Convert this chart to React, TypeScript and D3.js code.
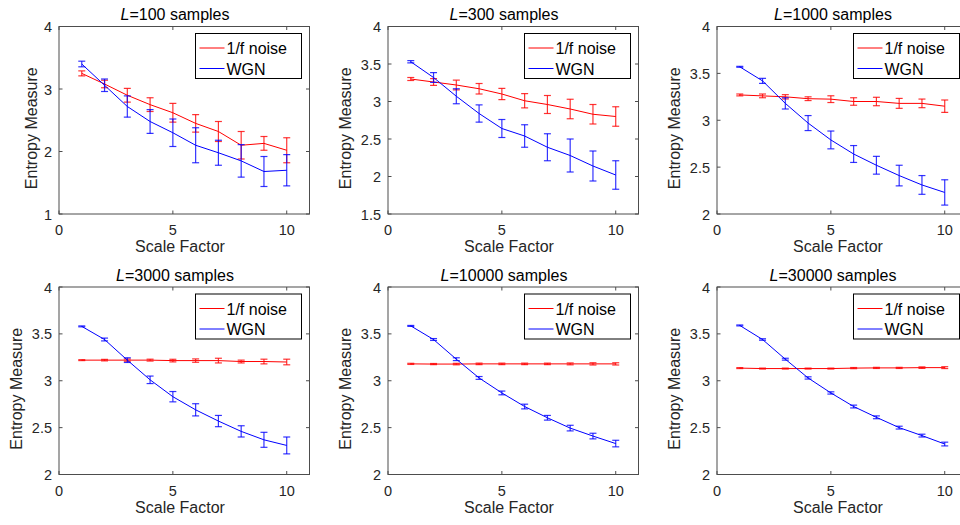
import React from "react";
import * as d3 from "d3";

const scales = [1, 2, 3, 4, 5, 6, 7, 8, 9, 10];
const titles = ["100", "300", "1000", "3000", "10000", "30000"];
const yDomains: [number, number][] = [[1, 4], [1.5, 4], [2, 4], [2, 4], [2, 4], [2, 4]];
const yTicks = [[1, 2, 3, 4], [1.5, 2, 2.5, 3, 3.5, 4], [2, 2.5, 3, 3.5, 4], [2, 2.5, 3, 3.5, 4], [2, 2.5, 3, 3.5, 4], [2, 2.5, 3, 3.5, 4]];
const xTicks = [0, 5, 10];
const seriesNames = ["1/f noise", "WGN"];

const pinkMean = [
  [3.25, 3.08, 2.9, 2.75, 2.62, 2.45, 2.32, 2.1, 2.13, 2.02],
  [3.3, 3.26, 3.22, 3.17, 3.1, 3.01, 2.96, 2.9, 2.83, 2.8],
  [3.27, 3.26, 3.25, 3.23, 3.225, 3.2, 3.2, 3.18, 3.18, 3.15],
  [3.22, 3.22, 3.22, 3.22, 3.215, 3.215, 3.215, 3.205, 3.205, 3.2],
  [3.18, 3.178, 3.178, 3.18, 3.18, 3.18, 3.18, 3.18, 3.18, 3.18],
  [3.135, 3.13, 3.13, 3.13, 3.13, 3.135, 3.137, 3.137, 3.14, 3.14],
];
const pinkErr = [
  [0.04, 0.06, 0.11, 0.11, 0.15, 0.14, 0.16, 0.22, 0.11, 0.2],
  [0.02, 0.045, 0.065, 0.07, 0.075, 0.095, 0.12, 0.13, 0.13, 0.13],
  [0.01, 0.02, 0.023, 0.02, 0.036, 0.04, 0.045, 0.053, 0.046, 0.066],
  [0.005, 0.008, 0.012, 0.01, 0.014, 0.018, 0.025, 0.015, 0.025, 0.03],
  [0.006, 0.006, 0.008, 0.008, 0.008, 0.008, 0.008, 0.01, 0.012, 0.012],
  [0.005, 0.005, 0.005, 0.005, 0.005, 0.006, 0.006, 0.006, 0.008, 0.01],
];
const whiteMean = [
  [3.4, 3.06, 2.72, 2.48, 2.3, 2.1, 1.98, 1.85, 1.68, 1.7],
  [3.53, 3.32, 3.07, 2.84, 2.64, 2.54, 2.39, 2.28, 2.14, 2.02],
  [3.57, 3.42, 3.18, 2.97, 2.79, 2.64, 2.52, 2.41, 2.31, 2.23],
  [3.58, 3.44, 3.22, 3.01, 2.83, 2.69, 2.57, 2.46, 2.37, 2.31],
  [3.585, 3.44, 3.23, 3.03, 2.87, 2.725, 2.605, 2.495, 2.41, 2.33],
  [3.59, 3.44, 3.23, 3.03, 2.87, 2.725, 2.61, 2.5, 2.415, 2.325],
];
const whiteErr = [
  [0.045, 0.1, 0.17, 0.19, 0.22, 0.28, 0.2, 0.26, 0.24, 0.25],
  [0.015, 0.065, 0.1, 0.115, 0.12, 0.15, 0.18, 0.22, 0.2, 0.19],
  [0.005, 0.027, 0.06, 0.08, 0.095, 0.09, 0.095, 0.11, 0.1, 0.135],
  [0.005, 0.015, 0.025, 0.04, 0.055, 0.065, 0.06, 0.06, 0.08, 0.09],
  [0.005, 0.01, 0.015, 0.015, 0.02, 0.025, 0.025, 0.03, 0.03, 0.035],
  [0.005, 0.008, 0.01, 0.012, 0.012, 0.015, 0.015, 0.015, 0.015, 0.02],
];

const FONT = "'Liberation Sans', Arial, Helvetica, sans-serif";
const AX = "#4d4d4d";
const TXT = "#262626";
const colors = ["#ff0000", "#0000ff"];

function Panel({ idx, left, top }: { idx: number; left: number; top: number }) {
  const w = 250.5, h = 187.5;
  const x = d3.scaleLinear().domain([0, 11]).range([0, w]);
  const y = d3.scaleLinear().domain(yDomains[idx]).range([h, 0]);
  const line = d3.line<[number, number]>().x((d) => x(d[0])).y((d) => y(d[1]));
  const series = [
    { mean: pinkMean[idx], err: pinkErr[idx] },
    { mean: whiteMean[idx], err: whiteErr[idx] },
  ];
  const tl = 3.5;
  const lw = 106, lh = 45;
  const lx = w - 8 - lw, ly = 7;
  const decimal = yTicks[idx].some((t) => !Number.isInteger(t));
  const ylabX = decimal ? -37 : -22.5;
  return (
    <g transform={`translate(${left},${top})`}>
      <text x={116} y={-6.5} textAnchor="middle" fontSize={16} fill="#000" fontFamily={FONT}>
        <tspan fontStyle="italic">L</tspan>={titles[idx]} samples
      </text>
      {series.map((s, si) => (
        <g key={si}>
          <path d={line(scales.map((sc, i) => [sc, s.mean[i]]))!} fill="none" stroke={colors[si]} strokeWidth={1} />
          {scales.map((sc, i) => {
            const cx = x(sc);
            const y1 = y(s.mean[i] - s.err[i]);
            const y2 = y(s.mean[i] + s.err[i]);
            return (
              <g key={i} stroke={colors[si]} strokeWidth={1.2} strokeOpacity={0.8}>
                <line x1={cx} x2={cx} y1={y1} y2={y2} />
                <line x1={cx - 3.5} x2={cx + 3.5} y1={y1} y2={y1} />
                <line x1={cx - 3.5} x2={cx + 3.5} y1={y2} y2={y2} />
              </g>
            );
          })}
        </g>
      ))}
      <rect x={0} y={0} width={w} height={h} fill="none" stroke={AX} strokeWidth={1} />
      {xTicks.map((t) => (
        <g key={"x" + t}>
          <line x1={x(t)} x2={x(t)} y1={h} y2={h - tl} stroke={AX} />
          <line x1={x(t)} x2={x(t)} y1={0} y2={tl} stroke={AX} />
          <text x={x(t)} y={h + 21} textAnchor="middle" fontSize={14.5} fill={TXT} fontFamily={FONT}>{t}</text>
        </g>
      ))}
      {yTicks[idx].map((t) => (
        <g key={"y" + t}>
          <line x1={0} x2={tl} y1={y(t)} y2={y(t)} stroke={AX} />
          <line x1={w} x2={w - tl} y1={y(t)} y2={y(t)} stroke={AX} />
          <text x={-7} y={y(t) + 5.5} textAnchor="end" fontSize={14.5} fill={TXT} fontFamily={FONT}>{t}</text>
        </g>
      ))}
      <text x={121} y={h + 38} textAnchor="middle" fontSize={16} fill={TXT} fontFamily={FONT}>Scale Factor</text>
      <text transform={`translate(${ylabX},${h / 2 + 8}) rotate(-90)`} textAnchor="middle" fontSize={16} fill={TXT} fontFamily={FONT}>Entropy Measure</text>
      <rect x={lx} y={ly} width={lw} height={lh} fill="#fff" stroke="#000" strokeWidth={1} />
      {seriesNames.map((n, i) => (
        <g key={n}>
          <line x1={lx + 4} x2={lx + 29} y1={ly + 14.5 + i * 20.5} y2={ly + 14.5 + i * 20.5} stroke={colors[i]} strokeWidth={1} />
          <text x={lx + 31} y={ly + 20.5 + i * 20.5} fontSize={16} fill="#000" fontFamily={FONT}>{n}</text>
        </g>
      ))}
    </g>
  );
}

export default function App() {
  const lefts = [59, 388, 717];
  const tops = [26.5, 287];
  return (
    <svg width={960} height={525} style={{ position: "absolute", left: 0, top: 0, background: "#fff" }}>
      <rect width={960} height={525} fill="#fff" />
      {titles.map((_, i) => (
        <Panel key={i} idx={i} left={lefts[i % 3]} top={tops[Math.floor(i / 3)]} />
      ))}
    </svg>
  );
}
